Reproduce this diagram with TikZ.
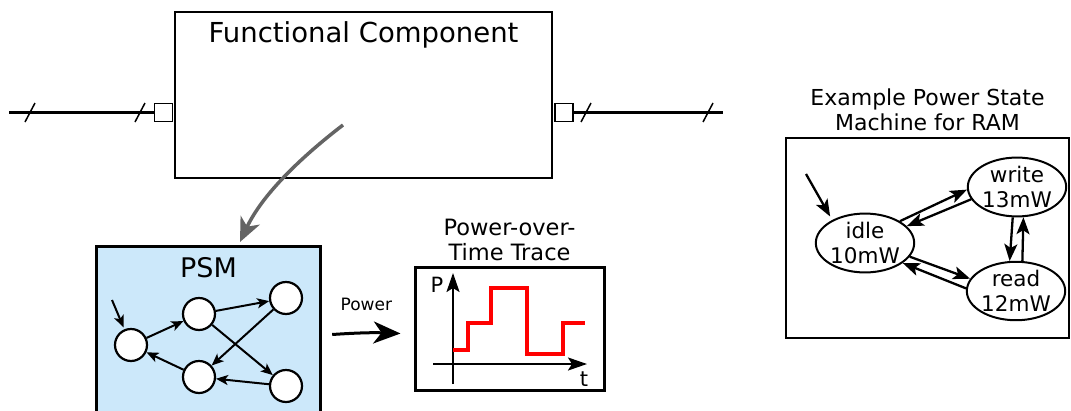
\documentclass[tikz,border=0pt]{standalone}
\usepackage{fontspec}
\setmainfont{DejaVu Sans}
\usetikzlibrary{shapes.geometric, arrows.meta, positioning, calc}

\definecolor{psmblue}{RGB}{204,232,250}
\definecolor{flowgray}{RGB}{100,100,100}

\begin{document}
\begin{tikzpicture}[
    x=1pt, y=-1pt,
    block/.style={rectangle, draw=black, line width=1.3pt, inner sep=0pt},
    port/.style={rectangle, draw=black, fill=white, line width=1.2pt, minimum size=18pt, inner sep=0pt},
    wire/.style={line width=2.2pt},
    tick/.style={line width=1.5pt},
    state/.style={circle, draw=black, fill=white, line width=2.2pt, minimum size=32pt, inner sep=0pt},
    pstate/.style={ellipse, draw=black, line width=2pt, minimum width=98pt, minimum height=58pt, inner sep=0pt, align=center, font=\fontsize{21.5}{25}\selectfont},
    arrow/.style={-{Stealth[length=12pt, width=10pt, inset=3pt]}, line width=2pt},
    ramarrow/.style={-{Stealth[length=17pt, width=13pt, inset=4pt]}, line width=2.3pt},
    bigarrow/.style={-{Stealth[length=19pt, width=13pt, inset=4pt]}, line width=2.3pt},
    title/.style={align=center, font=\fontsize{22.5}{25}\selectfont}
]
\useasboundingbox (0,0) rectangle (1071,410);

% Functional component with its ports
\node[block, minimum width=377pt, minimum height=166pt] (fc) at (363.5,95) {};
\node[below=7pt of fc.north, font=\fontsize{27.5}{30}\selectfont] (fctitle) {Functional Component};
\node[port] (lport) at (163.5,112.5) {};
\node[port] (rport) at (564,112.5) {};
\coordinate (lend) at (9,112.5);
\coordinate (rend) at (723,112.5);
\draw[wire] (lend) -- (lport);
\draw[wire] (rport) -- (rend);
\foreach \x in {30,140,586,708}
    \draw[tick] (\x-5,122) -- (\x+5,103);

% PSM
\node[rectangle, fill=psmblue, minimum width=223pt, minimum height=165pt, inner sep=0pt] (psm) at (208.5,329.5) {};
\draw[line width=3pt] (psm.south west) |- (psm.north east) -- (psm.south east);
\node[below=7pt of psm.north, font=\fontsize{27}{30}\selectfont] (psmtitle) {PSM};
\node[state] (s1) at (131,345) {};
\node[state] (s2) at (199,314) {};
\node[state] (s3) at (286,298) {};
\node[state] (s4) at (199,377) {};
\node[state] (s5) at (286,386) {};
\coordinate (psmstart) at (112,300);
\draw[arrow, shorten >=2pt] (psmstart) -- (s1);
\draw[arrow] (s1) -- (s2);
\draw[arrow] (s2) -- (s3);
\draw[arrow] (s3) -- (s4);
\draw[arrow] (s2) -- (s5);
\draw[arrow] (s5) -- (s4);
\draw[arrow] (s4) -- (s1);

% Flow from component to PSM
\coordinate (fcsrc) at (343,125);
\coordinate (psmin) at (240,242);
\draw[flowgray, line width=3.5pt, -{Stealth[length=24pt, width=21pt, inset=7pt]}] (fcsrc) .. controls (300,158) and (262,195) .. (psmin);

% Power-over-time trace
\node[block, line width=3pt, minimum width=189pt, minimum height=123pt] (trace) at (509.5,328.5) {};
\node[title, above=1pt of trace] (tracetitle) {Power-over-\\Time Trace};
\draw[bigarrow] (453,384) -- (453,273);
\draw[bigarrow] (433,364) -- (587,364);
\node[font=\fontsize{21}{24}\selectfont] (plabel) at (437,285) {P};
\node[font=\fontsize{21}{24}\selectfont] (tlabel) at (584,379) {t};
\draw[red, line width=4pt] (453,350) -| (468,323) -| (491,288) -| (527,354) -| (563,323) -- (585,323);

\draw[line width=3pt, -{Stealth[length=27pt, width=22pt, inset=8pt]}] ([xshift=12pt, yshift=-5pt]psm.east) to[bend left=3]
    node[midway, above=17pt, font=\fontsize{17}{19}\selectfont] (powerlabel) {Power} ([xshift=-13pt, yshift=-5pt]trace.west);

% Example power state machine
\node[block, line width=2pt, minimum width=283pt, minimum height=200pt] (ramsm) at (927.5,238) {};
\node[title, above=3pt of ramsm, font=\fontsize{22}{24.5}\selectfont] (ramtitle) {Example Power State\\Machine for RAM};
\node[pstate] (idle) at (865,243) {idle\\10mW};
\node[pstate, minimum width=96pt, minimum height=56pt] (write) at (1017,187) {write\\13mW};
\node[pstate] (read) at (1016,291) {read\\12mW};
\coordinate (ramstart) at (806,174);
\draw[ramarrow, shorten >=4pt] (ramstart) -- (idle.145);
\draw[ramarrow] (idle.32) -- (write.183);
\draw[ramarrow] (write.195) -- (idle.22);
\draw[ramarrow] (write.262) -- (read.102);
\draw[ramarrow] (read.78) -- (write.282);
\draw[ramarrow] (idle.343) -- (read.165);
\draw[ramarrow] (read.177) -- (idle.332);

\end{tikzpicture}
\end{document}
